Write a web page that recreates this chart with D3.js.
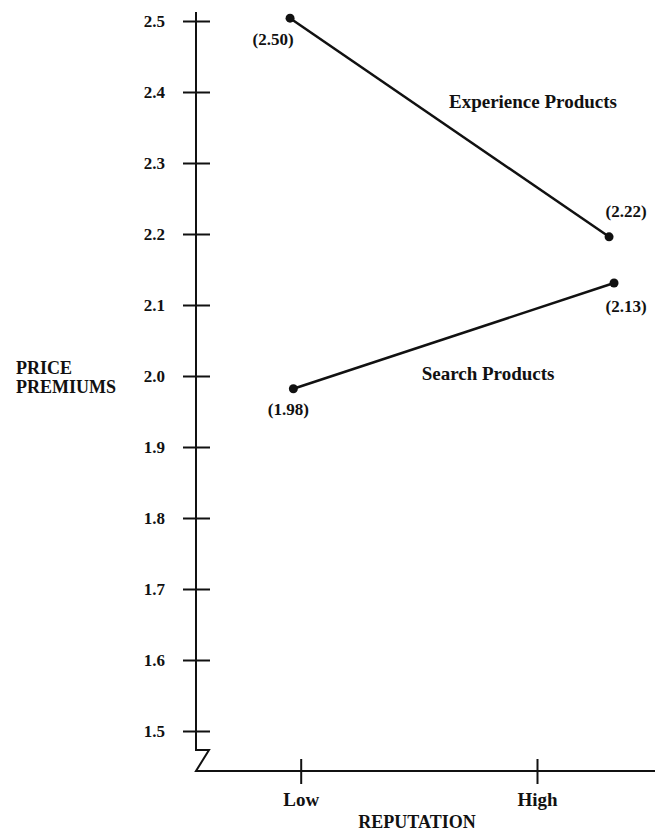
<!DOCTYPE html>
<html>
<head>
<meta charset="utf-8">
<script src="https://cdn.jsdelivr.net/npm/d3@7"></script>
<style>
  html, body { margin: 0; padding: 0; background: #fff; }
  svg text { font-family: "Liberation Serif", "Times New Roman", serif; font-weight: bold; fill: #111; }
</style>
</head>
<body>
<svg id="chart" width="658" height="832"></svg>
<script>
// Data
const yTicks = [1.5, 1.6, 1.7, 1.8, 1.9, 2.0, 2.1, 2.2, 2.3, 2.4, 2.5]
const reputationTicks = [0, 1]
const reputationLabels = ['Low', 'High']

const seriesNames = ['Experience Products', 'Search Products']
// reputation position of each plotted point (0 = Low, 1 = High)
const experienceX = [-0.045, 1.305]
const experienceY = [2.504, 2.196]
const experienceLabels = ['(2.50)', '(2.22)']
const searchX = [-0.031, 1.326]
const searchY = [1.982, 2.131]
const searchLabels = ['(1.98)', '(2.13)']
// where each series name sits, in data units
const seriesLabelX = [0.983, 0.793]
const seriesLabelY = [2.377, 1.994]

const svg = d3.select('#chart')

const axisX = 196
const axisY = 771

const y = d3.scaleLinear().domain([1.5, 2.5]).range([731, 21])
const x = d3.scaleLinear().domain([0, 1]).range([300.7, 537])

// Y axis
const yAxis = svg.append('g')
  .attr('transform', `translate(${axisX},0)`)
  .call(d3.axisLeft(y).tickValues(yTicks).tickFormat(d3.format('.1f')).tickSize(13))

yAxis.select('.domain').remove()
yAxis.selectAll('.tick line')
  .attr('x1', 14).attr('x2', -13)
  .attr('stroke', '#111').attr('stroke-width', 2)
yAxis.selectAll('.tick text')
  .attr('x', -31)
  .attr('dy', '0.35em')
  .attr('font-size', 17)
  .style('font-family', null)

// axis line with the break at the bottom
svg.append('path')
  .attr('d', `M${axisX},12 V750 H${axisX + 13} L${axisX},${axisY} H655`)
  .attr('fill', 'none')
  .attr('stroke', '#111')
  .attr('stroke-width', 2)

// X axis
const xAxis = svg.append('g')
  .attr('transform', `translate(0,${axisY})`)
  .call(d3.axisBottom(x).tickValues(reputationTicks).tickFormat((d, i) => reputationLabels[i]))

xAxis.select('.domain').remove()
xAxis.selectAll('.tick line')
  .attr('y1', -12).attr('y2', 13)
  .attr('stroke', '#111').attr('stroke-width', 2)
xAxis.selectAll('.tick text')
  .attr('y', 35)
  .attr('dy', null)
  .attr('font-size', 19)
  .style('font-family', null)

// Axis titles
svg.append('text')
  .attr('x', 417).attr('y', 828)
  .attr('text-anchor', 'middle')
  .attr('font-size', 18)
  .text('REPUTATION')

const yTitle = svg.append('text')
  .attr('x', 16).attr('y', 374)
  .attr('font-size', 18)
yTitle.append('tspan').attr('x', 16).text('PRICE')
yTitle.append('tspan').attr('x', 16).attr('dy', 19).text('PREMIUMS')

// Series
const series = [
  { name: seriesNames[0], xs: experienceX, ys: experienceY, labels: experienceLabels,
    offsets: [[-17, 27], [17, -20]] },
  { name: seriesNames[1], xs: searchX, ys: searchY, labels: searchLabels,
    offsets: [[-5, 26], [12, 29]] }
]

const line = d3.line().x(d => x(d[0])).y(d => y(d[1]))

series.forEach((s, si) => {
  const pts = s.xs.map((v, i) => [v, s.ys[i]])

  svg.append('path')
    .datum(pts)
    .attr('d', line)
    .attr('fill', 'none')
    .attr('stroke', '#111')
    .attr('stroke-width', 2.5)

  svg.selectAll(null)
    .data(pts)
    .join('circle')
    .attr('cx', d => x(d[0]))
    .attr('cy', d => y(d[1]))
    .attr('r', 4.5)
    .attr('fill', '#111')

  svg.selectAll(null)
    .data(pts)
    .join('text')
    .attr('x', (d, i) => x(d[0]) + s.offsets[i][0])
    .attr('y', (d, i) => y(d[1]) + s.offsets[i][1])
    .attr('text-anchor', 'middle')
    .attr('font-size', 17)
    .text((d, i) => s.labels[i])

  svg.append('text')
    .attr('x', x(seriesLabelX[si]))
    .attr('y', y(seriesLabelY[si]))
    .attr('text-anchor', 'middle')
    .attr('font-size', 19)
    .text(s.name)
})
</script>
</body>
</html>
